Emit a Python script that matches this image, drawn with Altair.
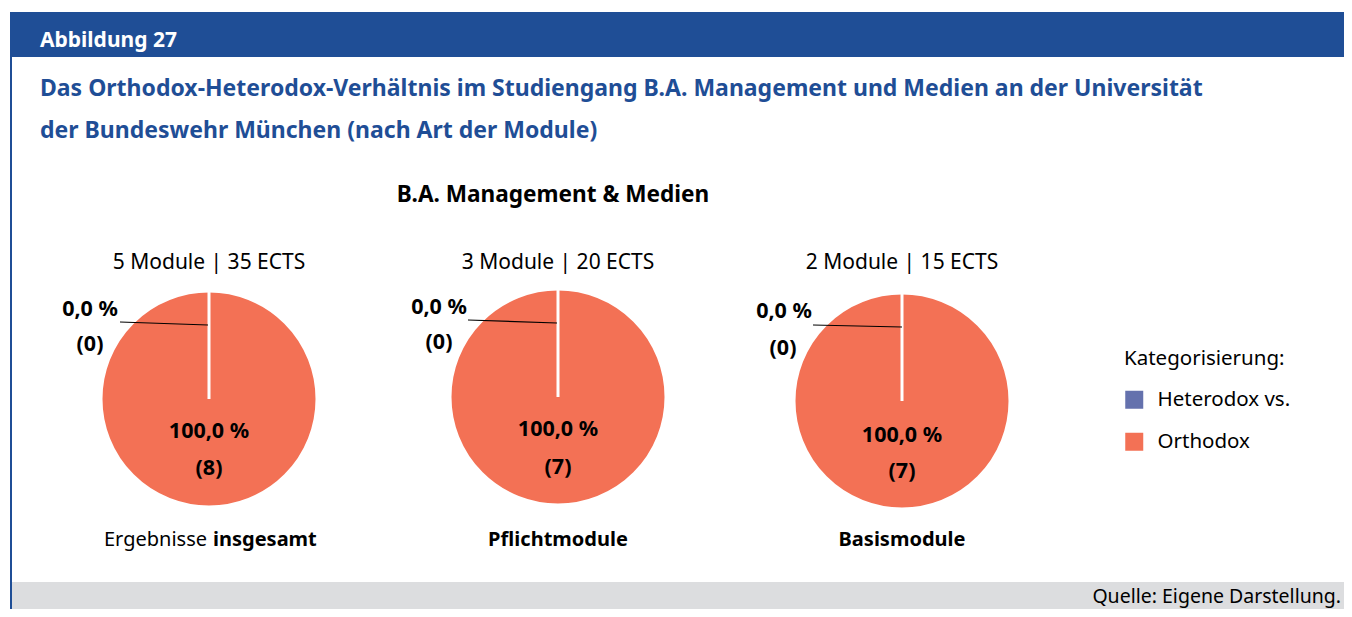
import altair as alt
import pandas as pd

# ---------------- data ----------------
pie_names = ["Ergebnisse insgesamt", "Pflichtmodule", "Basismodule"]
module_info = ["5 Module | 35 ECTS", "3 Module | 20 ECTS", "2 Module | 15 ECTS"]
bottom_regular = ["Ergebnisse", "", ""]
bottom_bold = ["insgesamt", "Pflichtmodule", "Basismodule"]
categories = ["Heterodox vs.", "Orthodox"]
heterodox_counts = [0, 0, 0]
orthodox_counts = [8, 7, 7]
colors = ["#6471ad", "#f37155"]

figure_label = "Abbildung 27"
title_line1 = "Das Orthodox-Heterodox-Verhältnis im Studiengang B.A. Management und Medien an der Universität"
title_line2 = "der Bundeswehr München (nach Art der Module)"
chart_title = "B.A. Management & Medien"
legend_title = "Kategorisierung:"
source_text = "Quelle: Eigene Darstellung."

rows = []
for i, name in enumerate(pie_names):
    total = heterodox_counts[i] + orthodox_counts[i]
    for cat, cnt in [("Orthodox", orthodox_counts[i]), ("Heterodox vs.", heterodox_counts[i])]:
        pct = 100.0 * cnt / total
        rows.append({
            "pie": name,
            "kategorie": cat,
            "anzahl": cnt,
            "pct_label": f"{pct:.1f}".replace(".", ",") + " %",
            "n_label": f"({cnt})",
            "info": module_info[i],
            "bot_reg": bottom_regular[i],
            "bot_bold": bottom_bold[i],
        })
df = pd.DataFrame(rows)

# ---------------- layout (pixels) ----------------
FONT = "Noto Sans"
BLUE = "#1f4e96"
W, H = 1336, 601
centers = [(201, 391), (550, 389), (894, 393)]
R = 108
zero_pct_pos = [(82, 308), (431, 306), (776, 310)]
zero_n_pos = [(82, 343), (431, 341), (775, 347)]
full_pct_pos = [(201, 430), (550, 428), (894, 434)]
full_n_pos = [(201, 467), (550, 466), (894, 470)]
leaders = [((112, 314), (200, 317)), ((460, 312), (549, 315)), ((805, 317), (894, 319))]
info_y = 261
bottom_y = 538
LABEL_SIZE = 21.5

one = pd.DataFrame({"k": [0]})

color_enc = alt.Color(
    "kategorie:N",
    scale=alt.Scale(domain=categories, range=colors),
    legend=alt.Legend(
        title=legend_title, orient="none", legendX=1116, legendY=341,
        symbolType="square", symbolSize=324, symbolStrokeWidth=0,
        labelFontSize=20.5, titleFontSize=20.5, titleFontWeight="normal",
        labelFont=FONT, titleFont=FONT, titleColor="black", labelColor="black",
        rowPadding=21, titlePadding=20, labelOffset=13, padding=0,
    ),
)

layers = []

# decorations
layers.append(alt.Chart(one).mark_rect(color=BLUE).encode(
    x=alt.value(2), x2=alt.value(W), y=alt.value(4), y2=alt.value(49)))
layers.append(alt.Chart(one).mark_rect(color=BLUE).encode(
    x=alt.value(2), x2=alt.value(4), y=alt.value(49), y2=alt.value(H)))
layers.append(alt.Chart(one).mark_rect(color="#dcdddf").encode(
    x=alt.value(4), x2=alt.value(W), y=alt.value(574), y2=alt.value(H)))

def txt(text, x, y, size, weight="normal", color="black", align="left"):
    return alt.Chart(pd.DataFrame({"t": [text]})).mark_text(
        font=FONT, fontSize=size, fontWeight=weight, color=color,
        align=align, baseline="alphabetic").encode(
        text="t:N", x=alt.value(x), y=alt.value(y))

layers.append(txt(figure_label, 32, 39, 21, "bold", "white"))
layers.append(txt(title_line1, 32, 88, 23, "bold", BLUE))
layers.append(txt(title_line2, 32, 130, 23, "bold", BLUE))
layers.append(txt(chart_title, 545, 194, 22.6, "bold", "black", "center"))
layers.append(txt(source_text, 1333, 595, 19.5, "normal", "black", "right"))

for i, name in enumerate(pie_names):
    cx, cy = centers[i]
    base = alt.Chart(df).transform_filter(alt.datum.pie == name)
    layers.append(base.mark_arc(outerRadius=R, stroke="white", strokeWidth=3).encode(
        theta=alt.Theta("anzahl:Q", stack="normalize"),
        color=color_enc,
        x=alt.value(cx), y=alt.value(cy),
    ))
    (x1, y1), (x2, y2) = leaders[i]
    layers.append(alt.Chart(one).mark_rule(color="black", strokeWidth=1.2).encode(
        x=alt.value(x1), y=alt.value(y1), x2=alt.value(x2), y2=alt.value(y2)))
    zero = base.transform_filter(alt.datum.kategorie == "Heterodox vs.")
    full = base.transform_filter(alt.datum.kategorie == "Orthodox")
    tstyle = dict(font=FONT, fontSize=LABEL_SIZE, fontWeight="bold", color="black",
                  align="center", baseline="alphabetic")
    layers.append(zero.mark_text(**tstyle).encode(
        text="pct_label:N", x=alt.value(zero_pct_pos[i][0]), y=alt.value(zero_pct_pos[i][1])))
    layers.append(zero.mark_text(**tstyle).encode(
        text="n_label:N", x=alt.value(zero_n_pos[i][0]), y=alt.value(zero_n_pos[i][1])))
    layers.append(full.mark_text(**tstyle).encode(
        text="pct_label:N", x=alt.value(full_pct_pos[i][0]), y=alt.value(full_pct_pos[i][1])))
    layers.append(full.mark_text(**tstyle).encode(
        text="n_label:N", x=alt.value(full_n_pos[i][0]), y=alt.value(full_n_pos[i][1])))
    # module info above
    layers.append(full.mark_text(font=FONT, fontSize=21, color="black", align="center",
                                 baseline="alphabetic").encode(
        text="info:N", x=alt.value(cx), y=alt.value(info_y)))
    # bottom label
    if bottom_regular[i]:
        layers.append(full.mark_text(font=FONT, fontSize=20, color="black", align="right",
                                     baseline="alphabetic").encode(
            text="bot_reg:N", x=alt.value(cx - 2), y=alt.value(bottom_y)))
        layers.append(full.mark_text(font=FONT, fontSize=20, fontWeight="bold", color="black",
                                     align="left", baseline="alphabetic").encode(
            text="bot_bold:N", x=alt.value(cx + 4), y=alt.value(bottom_y)))
    else:
        layers.append(full.mark_text(font=FONT, fontSize=20, fontWeight="bold", color="black",
                                     align="center", baseline="alphabetic").encode(
            text="bot_bold:N", x=alt.value(cx), y=alt.value(bottom_y)))

chart = alt.layer(*layers).properties(
    width=W, height=H, padding=0, autosize="none"
).configure_view(stroke=None)

chart.save("out.html", embed_options={"renderer": "svg", "actions": False})
